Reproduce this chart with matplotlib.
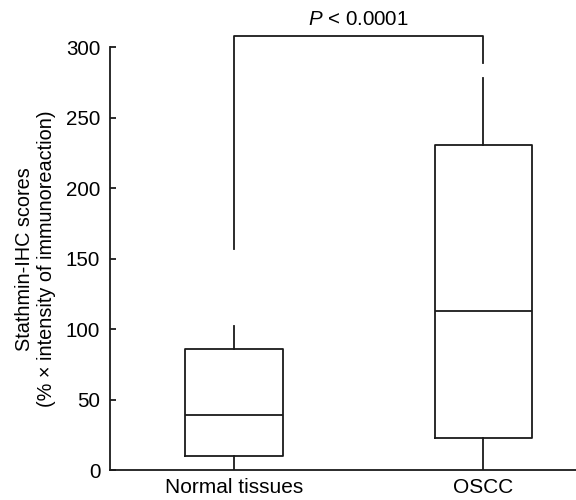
import matplotlib
matplotlib.use("Agg")
import matplotlib.pyplot as plt

plt.rcParams['font.family'] = ['Liberation Sans', 'DejaVu Sans']
plt.rcParams['mathtext.fontset'] = 'custom'
plt.rcParams['mathtext.rm'] = 'Liberation Sans'
plt.rcParams['mathtext.it'] = 'Liberation Sans:italic'

# box statistics
groups = ['Normal tissues', 'OSCC']
whis_low = [0, 0]
q1 = [10, 23]
median = [39, 113]
q3 = [86, 231]
whis_high = [102, 278]

# significance bracket
bracket_left = 157
bracket_top = 308
bracket_right = 289
p_text = '$P$ < 0.0001'

stats = []
for i in range(len(groups)):
    stats.append(dict(label=groups[i], whislo=whis_low[i], q1=q1[i],
                      med=median[i], q3=q3[i], whishi=whis_high[i], fliers=[]))

fig = plt.figure(figsize=(5.76, 5.0), dpi=100)
ax = fig.add_axes([0.191, 0.06, 0.809, 0.845])

lc = '#1a1a1a'
lw = 1.3
ax.bxp(stats, positions=[1, 2], widths=0.39, showcaps=False, showfliers=False,
       boxprops=dict(color=lc, linewidth=lw),
       whiskerprops=dict(color=lc, linewidth=lw),
       medianprops=dict(color=lc, linewidth=lw))

ax.plot([1, 1, 2, 2], [bracket_left, bracket_top, bracket_top, bracket_right],
        color=lc, linewidth=lw, clip_on=False)
ax.annotate(p_text, xy=(1.5, bracket_top), xytext=(0, 5), textcoords='offset points',
            ha='center', va='bottom', fontsize=14.8, annotation_clip=False)

ax.set_xlim(0.502, 2.373)
ax.set_ylim(0, 300)
ax.set_yticks([0, 50, 100, 150, 200, 250, 300])

ax.spines['top'].set_visible(False)
ax.spines['right'].set_visible(False)
for s in ['left', 'bottom']:
    ax.spines[s].set_color(lc)
    ax.spines[s].set_linewidth(lw)

ax.tick_params(axis='y', direction='in', length=4.5, width=lw, color=lc,
               labelsize=14.8, pad=7)
ax.tick_params(axis='x', length=0, labelsize=15, pad=6)

ax.set_ylabel('Stathmin-IHC scores\n(% \u00d7 intensity of immunoreaction)',
              fontsize=14.3, labelpad=7)

fig.savefig('out.png', dpi=100)
